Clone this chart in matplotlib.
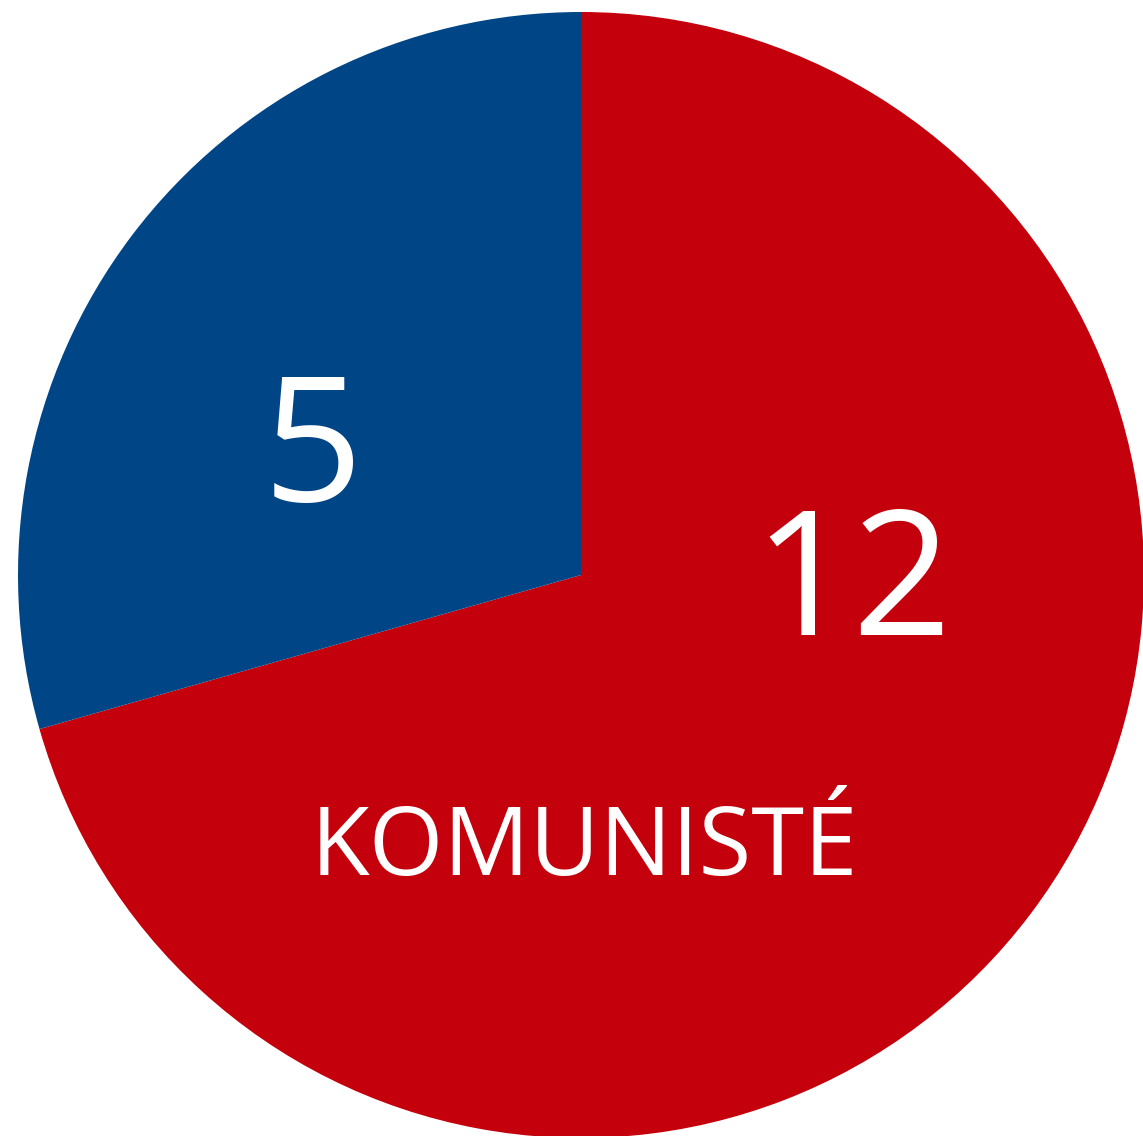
import matplotlib.pyplot as plt

# seat counts
parties = ["KOMUNISTÉ", "other"]
seats = [12, 5]
colors = ["#C3000B", "#004586"]
labels = ["12", "5"]

W, H = 1143, 1136
fig = plt.figure(figsize=(W / 100, H / 100), dpi=100)
ax = fig.add_axes([0, 0, 1, 1])

cx, cy, r = 581, H - 575, 563
ax.pie(seats, colors=colors, startangle=90, counterclock=False,
       center=(cx, cy), radius=r, frame=True,
       wedgeprops=dict(linewidth=0))
ax.set_xlim(0, W)
ax.set_ylim(0, H)
ax.set_aspect("equal")
ax.axis("off")

font = "Open Sans"
ax.text(853, H - 635, labels[0], color="white", fontsize=125,
        family=font, ha="center", va="baseline")
ax.text(313, H - 501, labels[1], color="white", fontsize=126,
        family=font, ha="center", va="baseline")
ax.text(584, H - 875, parties[0], color="white", fontsize=69,
        family=font, ha="center", va="baseline")

fig.savefig("out.png", dpi=100)
